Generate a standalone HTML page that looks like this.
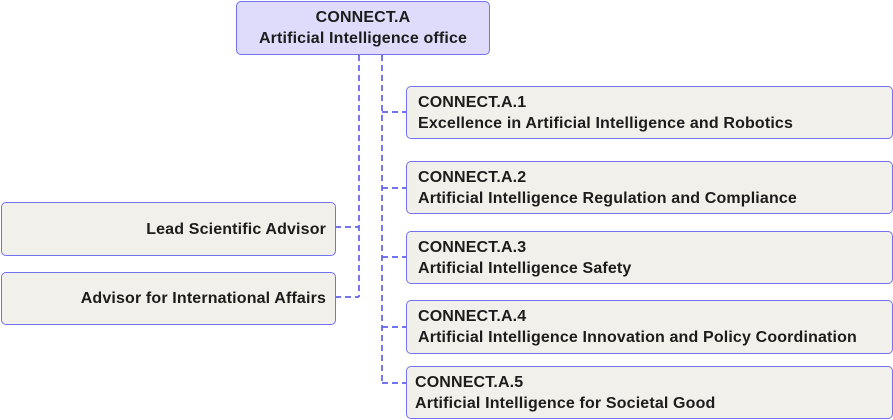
<!DOCTYPE html>
<html>
<head>
<meta charset="utf-8">
<style>
  html, body { margin: 0; padding: 0; background: #ffffff; }
  body { width: 893px; height: 420px; position: relative; overflow: hidden;
         font-family: "Liberation Sans", Arial, sans-serif; }
  .box { position: absolute; box-sizing: border-box; border: 1.5px solid #7272f0;
         border-radius: 5px; background: #f2f0ea; color: #1c1c1c;
         font-weight: bold; font-size: 16px; line-height: 21px; letter-spacing: 0.15px;
         display: flex; flex-direction: column; justify-content: center; white-space: nowrap; }
  .top { background: #dedcfa; text-align: center; align-items: center; }
  .r { padding-left: 11px; }
  .l { text-align: right; padding-right: 9px; }
  svg { position: absolute; left: 0; top: 0; }
</style>
</head>
<body>
<svg width="893" height="420" viewBox="0 0 893 420">
  <g stroke="#6060ee" stroke-width="1.7" fill="none" stroke-dasharray="6 4">
    <path d="M359 55 V297"/>
    <path d="M382 55 V383"/>
    <path d="M382 112 H406"/>
    <path d="M382 188 H406"/>
    <path d="M382 257 H406"/>
    <path d="M382 327 H406"/>
    <path d="M382 383 H406"/>
    <path d="M335 227 H359"/>
    <path d="M335 297 H359"/>
  </g>
</svg>

<div class="box top" style="left:236px;top:1px;width:254px;height:54px;">
  <div>CONNECT.A</div>
  <div>Artificial Intelligence office</div>
</div>

<div class="box r" style="left:406px;top:86px;width:487px;height:53px;">
  <div>CONNECT.A.1</div>
  <div>Excellence in Artificial Intelligence and Robotics</div>
</div>
<div class="box r" style="left:406px;top:161px;width:487px;height:53px;">
  <div>CONNECT.A.2</div>
  <div>Artificial Intelligence Regulation and Compliance</div>
</div>
<div class="box r" style="left:406px;top:231px;width:487px;height:53px;">
  <div>CONNECT.A.3</div>
  <div>Artificial Intelligence Safety</div>
</div>
<div class="box r" style="left:406px;top:300px;width:487px;height:54px;">
  <div>CONNECT.A.4</div>
  <div>Artificial Intelligence Innovation and Policy Coordination</div>
</div>
<div class="box r" style="left:406px;top:366px;width:487px;height:53px;padding-left:8px;">
  <div>CONNECT.A.5</div>
  <div>Artificial Intelligence for Societal Good</div>
</div>

<div class="box l" style="left:1px;top:202px;width:335px;height:54px;">
  <div>Lead Scientific Advisor</div>
</div>
<div class="box l" style="left:1px;top:272px;width:335px;height:53px;">
  <div>Advisor for International Affairs</div>
</div>
</body>
</html>
